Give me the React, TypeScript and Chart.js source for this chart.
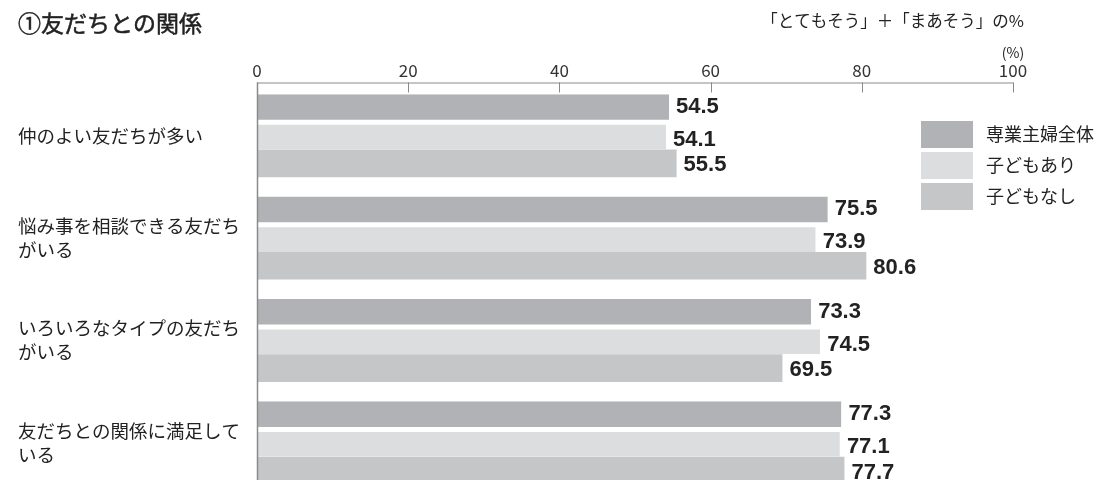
import React, { useEffect, useRef } from "react";
import { Chart, registerables } from "chart.js";

Chart.register(...registerables);

const categories: string[][] = [
  ["仲のよい友だちが多い"],
  ["悩み事を相談できる友だち", "がいる"],
  ["いろいろなタイプの友だち", "がいる"],
  ["友だちとの関係に満足して", "いる"],
];
const seriesNames = ["専業主婦全体", "子どもあり", "子どもなし"];
const allHousewives = [54.5, 75.5, 73.3, 77.3];
const withChildren = [54.1, 73.9, 74.5, 77.1];
const withoutChildren = [55.5, 80.6, 69.5, 77.7];
const xTicks = [0, 20, 40, 60, 80, 100];
const seriesColors = ["#b1b2b5", "#dcdddf", "#c5c6c8"];

const titleText = "①友だちとの関係";
const subtitleText = "「とてもそう」＋「まあそう」の%";
const unitText = "(%)";

const JP = '"Noto Sans CJK JP", "Noto Sans", sans-serif';

const decorPlugin = {
  id: "decor",
  afterDatasetsDraw(chart: any) {
    const ctx = chart.ctx;
    const area = chart.chartArea;
    const xs = chart.scales.x;
    const axisY = area.top - 2;
    ctx.save();
    // value labels
    const dy = [-1, 4, 2];
    chart.data.datasets.forEach((ds: any, di: number) => {
      const meta = chart.getDatasetMeta(di);
      meta.data.forEach((el: any, i: number) => {
        ctx.font = 'bold 22px "Liberation Sans", Arial, sans-serif';
        ctx.fillStyle = "#222";
        ctx.textAlign = "left";
        ctx.textBaseline = "middle";
        ctx.fillText(Number(ds.data[i]).toFixed(1), el.x + 7, el.y + dy[di]);
      });
    });
    // axis lines
    ctx.strokeStyle = "#8a8a8a";
    ctx.lineWidth = 1;
    ctx.beginPath();
    ctx.moveTo(area.left, axisY + 0.5);
    ctx.lineTo(xs.getPixelForValue(100) + 0.5, axisY + 0.5);
    ctx.stroke();
    xTicks.forEach((v) => {
      const x = Math.round(xs.getPixelForValue(v)) + 0.5;
      ctx.beginPath();
      ctx.moveTo(x, axisY);
      ctx.lineTo(x, axisY + 10);
      ctx.stroke();
    });
    ctx.lineWidth = 1.5;
    ctx.strokeStyle = "#8a8a8a";
    ctx.beginPath();
    ctx.moveTo(area.left + 0.5, axisY);
    ctx.lineTo(area.left + 0.5, chart.height);
    ctx.stroke();
    // texts
    ctx.fillStyle = "#222";
    ctx.strokeStyle = "#222";
    ctx.textBaseline = "middle";
    ctx.textAlign = "left";
    ctx.font = "23px " + JP;
    ctx.lineWidth = 0.5;
    ctx.fillText(titleText, 18, 23);
    ctx.strokeText(titleText, 18, 23);
    ctx.font = "16.5px " + JP;
    ctx.textAlign = "right";
    ctx.fillText(subtitleText, 1024, 21);
    ctx.font = "14px " + JP;
    ctx.textAlign = "center";
    ctx.fillText(unitText, xs.getPixelForValue(100), 53);
    // legend
    chart.data.datasets.forEach((ds: any, di: number) => {
      const top = 121 + di * 31;
      ctx.fillStyle = ds.backgroundColor;
      ctx.fillRect(921, top, 52, 27);
      ctx.fillStyle = "#222";
      ctx.font = "18px " + JP;
      ctx.textAlign = "left";
      ctx.textBaseline = "middle";
      ctx.fillText(ds.label, 986, top + 13.5);
    });
    ctx.restore();
  },
};

export default function App() {
  const ref = useRef<HTMLCanvasElement | null>(null);
  useEffect(() => {
    if (!ref.current) return;
    const chart = new Chart(ref.current, {
      type: "bar",
      data: {
        labels: categories,
        datasets: [
          {
            label: seriesNames[0],
            data: allHousewives,
            backgroundColor: seriesColors[0],
            borderColor: "#ffffff",
            borderWidth: { top: 0, right: 0, bottom: 2, left: 0 },
            borderSkipped: false,
          },
          {
            label: seriesNames[1],
            data: withChildren,
            backgroundColor: seriesColors[1],
            borderColor: "#ffffff",
            borderWidth: { top: 3, right: 0, bottom: 0, left: 0 },
            borderSkipped: false,
          },
          {
            label: seriesNames[2],
            data: withoutChildren,
            backgroundColor: seriesColors[2],
            borderWidth: 0,
          },
        ],
      } as any,
      options: {
        indexAxis: "y",
        responsive: false,
        animation: false,
        devicePixelRatio: 1,
        layout: { padding: { top: 0, left: 18, right: 88, bottom: 0 } },
        datasets: { bar: { categoryPercentage: 0.81, barPercentage: 1.0 } } as any,
        plugins: {
          legend: { display: false },
          tooltip: { enabled: false },
          title: { display: false },
        },
        scales: {
          x: {
            position: "top",
            min: 0,
            max: 100,
            afterBuildTicks: (scale: any) => {
              scale.ticks = xTicks.map((v) => ({ value: v }));
            },
            afterFit: (scale: any) => {
              scale.height = 84.5;
              scale.paddingLeft = 0;
              scale.paddingRight = 0;
            },
            grid: { display: false, drawTicks: false },
            border: { display: false },
            ticks: {
              padding: 4,
              color: "#333",
              font: { family: JP, size: 17 },
              maxRotation: 0,
            },
          },
          y: {
            afterFit: (scale: any) => {
              scale.width = 239;
              scale.paddingTop = 0;
              scale.paddingBottom = 0;
            },
            grid: { display: false, drawTicks: false },
            border: { display: false },
            ticks: {
              crossAlign: "far",
              color: "#222",
              font: { family: JP, size: 18.5, lineHeight: 1.3 },
            },
          },
        },
      } as any,
      plugins: [decorPlugin],
    });
    return () => chart.destroy();
  }, []);
  return (
    <div
      style={{
        position: "fixed",
        left: 0,
        top: 0,
        width: 1101,
        height: 480,
        overflow: "hidden",
        background: "#fff",
      }}
    >
      <canvas ref={ref} width={1101} height={494} style={{ display: "block" }} />
    </div>
  );
}
